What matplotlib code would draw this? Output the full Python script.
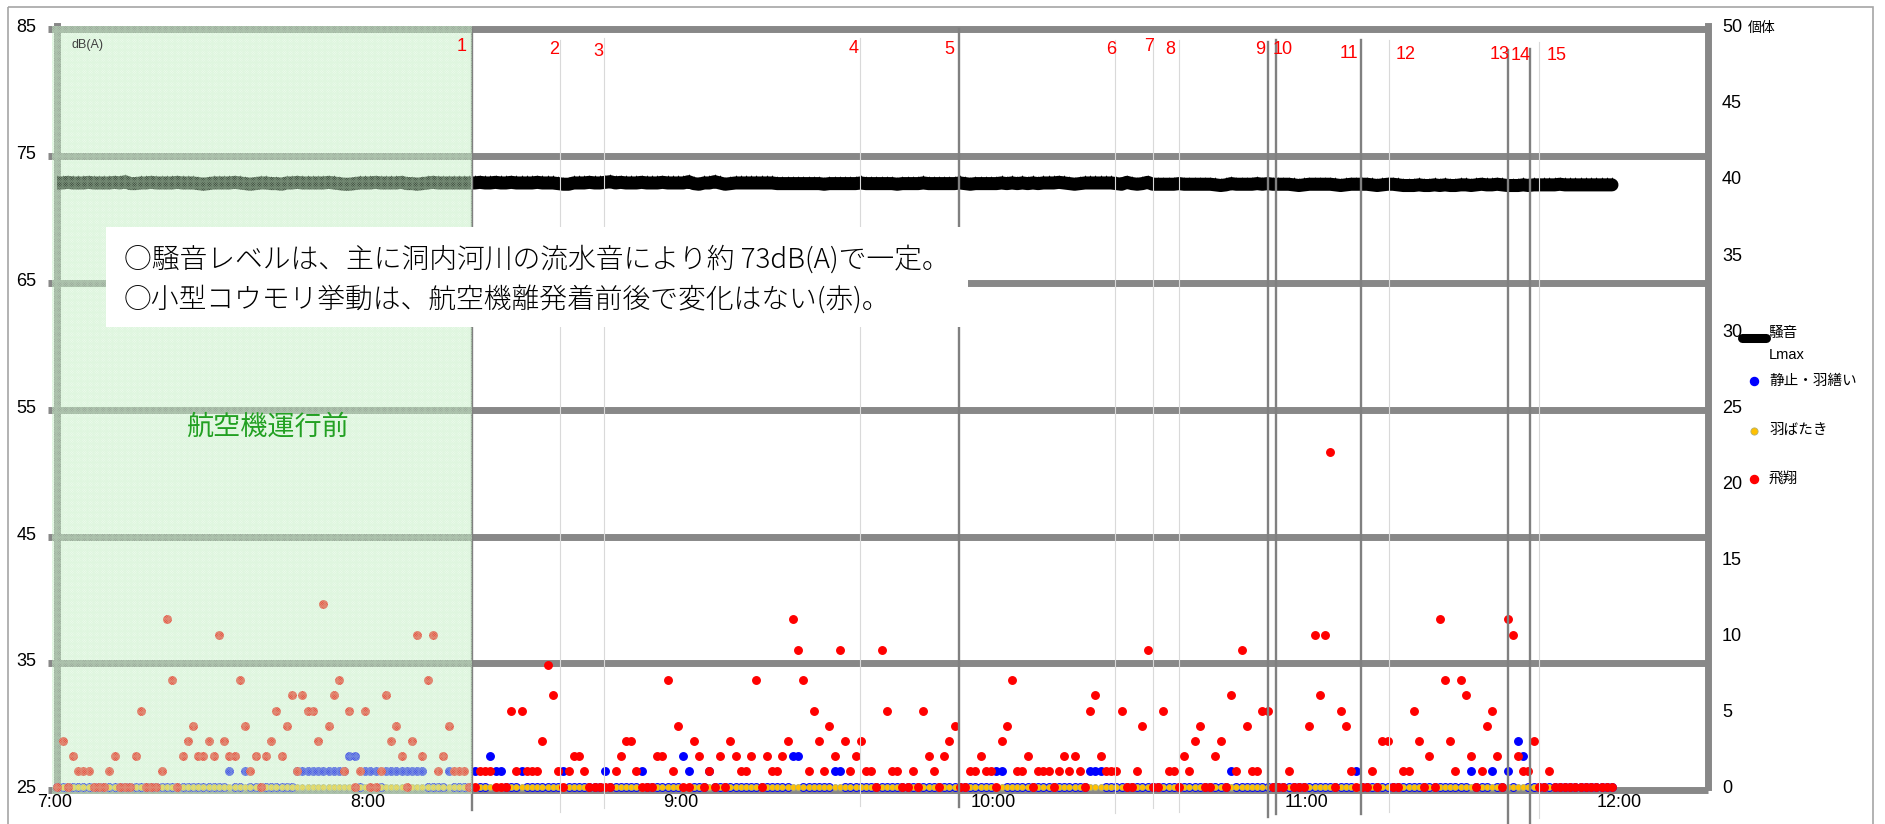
import matplotlib
matplotlib.use("Agg")
import matplotlib.pyplot as plt
import matplotlib.transforms as mtransforms
from matplotlib.patches import Rectangle
from matplotlib.lines import Line2D

plt.rcParams['font.family'] = ['Liberation Sans', 'Noto Sans CJK JP']
plt.rcParams['hatch.linewidth'] = 0.6

# ---------------------------------------------------------------- data
# one sample per minute starting at 7:00
x_tick_labels = ['7:00', '8:00', '9:00', '10:00', '11:00', '12:00']

# noise level Lmax [dB(A)]
noise_lmax = [
    72.6, 72.6, 72.65, 72.6, 72.6, 72.6, 72.65, 72.6, 72.6, 72.6, 72.6, 72.65, 72.6, 72.7, 72.55, 72.55, 72.6, 72.6, 72.65, 72.6,
    72.6, 72.6, 72.6, 72.65, 72.6, 72.6, 72.6, 72.55, 72.5, 72.55, 72.6, 72.6, 72.6, 72.6, 72.65, 72.6, 72.55, 72.5, 72.55, 72.6,
    72.6, 72.55, 72.55, 72.5, 72.6, 72.6, 72.65, 72.6, 72.6, 72.6, 72.6, 72.6, 72.65, 72.6, 72.55, 72.5, 72.5, 72.55, 72.6, 72.6,
    72.6, 72.65, 72.6, 72.6, 72.6, 72.6, 72.65, 72.55, 72.55, 72.5, 72.55, 72.6, 72.65, 72.6, 72.6, 72.6, 72.6, 72.6, 72.6, 72.6,
    72.6, 72.65, 72.6, 72.6, 72.65, 72.6, 72.6, 72.65, 72.6, 72.6, 72.6, 72.6, 72.65, 72.6, 72.6, 72.6, 72.55, 72.5, 72.5, 72.6,
    72.6, 72.6, 72.65, 72.6, 72.6, 72.65, 72.7, 72.6, 72.65, 72.6, 72.6, 72.6, 72.65, 72.6, 72.6, 72.6, 72.65, 72.6, 72.6, 72.6,
    72.6, 72.7, 72.55, 72.5, 72.6, 72.6, 72.7, 72.6, 72.5, 72.55, 72.6, 72.6, 72.6, 72.6, 72.6, 72.6, 72.6, 72.6, 72.55, 72.55,
    72.55, 72.55, 72.55, 72.55, 72.55, 72.55, 72.55, 72.5, 72.55, 72.55, 72.55, 72.55, 72.55, 72.55, 72.6, 72.55, 72.55, 72.55, 72.55, 72.55,
    72.55, 72.5, 72.55, 72.55, 72.55, 72.55, 72.6, 72.55, 72.55, 72.55, 72.55, 72.55, 72.55, 72.6, 72.55, 72.5, 72.55, 72.55, 72.55, 72.55,
    72.55, 72.6, 72.55, 72.6, 72.55, 72.6, 72.55, 72.6, 72.55, 72.6, 72.6, 72.6, 72.65, 72.6, 72.55, 72.5, 72.55, 72.6, 72.6, 72.6,
    72.6, 72.6, 72.6, 72.55, 72.5, 72.65, 72.55, 72.5, 72.55, 72.65, 72.5, 72.5, 72.5, 72.5, 72.5, 72.55, 72.5, 72.5, 72.5, 72.5,
    72.5, 72.5, 72.45, 72.4, 72.45, 72.55, 72.5, 72.5, 72.5, 72.5, 72.55, 72.5, 72.55, 72.5, 72.5, 72.5, 72.5, 72.45, 72.4, 72.45,
    72.5, 72.5, 72.5, 72.5, 72.5, 72.45, 72.4, 72.45, 72.5, 72.5, 72.5, 72.5, 72.45, 72.4, 72.45, 72.5, 72.5, 72.45, 72.4, 72.4,
    72.4, 72.45, 72.4, 72.4, 72.45, 72.4, 72.45, 72.4, 72.4, 72.45, 72.45, 72.4, 72.45, 72.5, 72.45, 72.45, 72.5, 72.45, 72.4, 72.4,
    72.4, 72.45, 72.4, 72.45, 72.45, 72.45, 72.45, 72.45, 72.5, 72.45, 72.45, 72.45, 72.45, 72.45, 72.45, 72.45, 72.45, 72.45, 72.45,
]

# bats resting / grooming (individuals)
still_groom = [
    0, 0, 0, 0, 0, 0, 0, 0, 0, 0, 0, 0, 0, 0, 0, 0, 0, 0, 0, 0,
    0, 0, 0, 0, 0, 0, 0, 0, 0, 0, 0, 0, 0, 1, 0, 0, 1, 0, 0, 0,
    0, 0, 0, 0, 0, 0, 1, 1, 1, 1, 1, 1, 1, 1, 1, 1, 2, 2, 0, 1,
    1, 1, 0, 1, 1, 1, 1, 1, 1, 1, 1, 0, 0, 0, 0, 1, 0, 0, 0, 0,
    1, 0, 0, 2, 1, 1, 0, 0, 0, 1, 0, 0, 0, 0, 0, 0, 0, 1, 0, 0,
    0, 0, 0, 0, 0, 1, 0, 0, 0, 0, 0, 0, 1, 0, 0, 0, 0, 0, 0, 0,
    2, 1, 0, 0, 0, 1, 0, 0, 0, 0, 0, 0, 0, 0, 0, 0, 0, 0, 0, 0,
    0, 2, 2, 0, 0, 0, 0, 0, 0, 1, 1, 0, 0, 0, 0, 0, 0, 0, 0, 0,
    0, 0, 0, 0, 0, 0, 0, 0, 0, 0, 0, 0, 0, 0, 0, 0, 0, 0, 0, 0,
    1, 1, 0, 0, 0, 0, 0, 0, 0, 0, 0, 0, 0, 0, 0, 0, 0, 0, 1, 1,
    1, 0, 0, 0, 0, 0, 0, 0, 0, 0, 0, 0, 0, 0, 0, 0, 0, 0, 0, 0,
    0, 0, 0, 0, 0, 1, 0, 0, 0, 0, 0, 0, 0, 0, 0, 0, 0, 0, 0, 0,
    0, 0, 0, 0, 0, 0, 0, 0, 0, 1, 0, 0, 0, 0, 0, 0, 0, 0, 0, 0,
    0, 0, 0, 0, 0, 0, 0, 0, 0, 0, 0, 1, 0, 0, 0, 1, 0, 0, 1, 0,
    3, 2, 0, 0, 0, 0, 0, 0, 0, 0, 0, 0, 0, 0, 0, 0, 0, 0, 0,
]

# bats wing-flapping (individuals): none observed
flapping = [0] * len(noise_lmax)

# bats in flight (individuals)
flight = [
    0, 3, 0, 2, 1, 1, 1, 0, 0, 0, 1, 2, 0, 0, 0, 2, 5, 0, 0, 0,
    1, 11, 7, 0, 2, 3, 4, 2, 2, 3, 2, 10, 3, 2, 2, 7, 4, 1, 2, 0,
    2, 3, 5, 2, 4, 6, 1, 6, 5, 5, 3, 12, 4, 6, 7, 1, 5, 0, 1, 5,
    0, 0, 1, 6, 3, 4, 2, 0, 3, 10, 2, 7, 10, 1, 2, 4, 1, 1, 1, 0,
    0, 1, 1, 1, 0, 0, 0, 5, 1, 5, 1, 1, 1, 3, 8, 6, 1, 0, 1, 2,
    2, 1, 0, 0, 0, 0, 0, 1, 2, 3, 3, 1, 0, 0, 0, 2, 2, 7, 1, 4,
    0, 0, 3, 2, 0, 1, 0, 2, 0, 3, 2, 1, 1, 2, 7, 0, 2, 1, 1, 2,
    3, 11, 9, 7, 1, 5, 3, 1, 4, 2, 9, 3, 1, 2, 3, 1, 1, 0, 9, 5,
    1, 1, 0, 0, 1, 0, 5, 2, 1, 0, 2, 3, 4, 0, 0, 1, 1, 2, 1, 1,
    0, 3, 4, 7, 1, 1, 2, 0, 1, 1, 1, 0, 1, 2, 1, 2, 1, 0, 5, 6,
    2, 1, 1, 1, 5, 0, 0, 1, 4, 9, 0, 0, 5, 1, 1, 0, 2, 1, 3, 4,
    0, 0, 2, 3, 0, 6, 1, 9, 4, 1, 1, 5, 5, 0, 0, 0, 1, 0, 0, 0,
    4, 10, 6, 10, 22, 0, 5, 4, 1, 0, 0, 0, 1, 0, 3, 3, 0, 0, 1, 1,
    5, 3, 0, 2, 0, 11, 7, 3, 1, 7, 6, 2, 0, 1, 4, 5, 2, 0, 11, 10,
    2, 1, 1, 3, 0, 0, 1, 0, 0, 0, 0, 0, 0, 0, 0, 0, 0, 0, 0,
]

# aircraft events (numbered 1-15)
event_labels = [str(i) for i in range(1, 16)]
event_times = ['8:19:26', '8:36:22', '8:44:51', '9:33:52', '9:52:54',
               '10:22:44', '10:30:05', '10:35:04', '10:52:00', '10:53:33',
               '11:09:50', '11:15:18', '11:38:06', '11:42:18', '11:44:06']
event_major = [True, False, False, False, True, False, False, False,
               True, True, True, False, True, True, False]

assert len(noise_lmax) == len(still_groom) == len(flight)


def to_minutes(s):
    h, m, sec = (int(v) for v in s.split(':'))
    return (h - 7) * 60 + m + sec / 60.0


minutes = list(range(len(noise_lmax)))
event_min = [to_minutes(s) for s in event_times]

# ---------------------------------------------------------------- layout
W, H = 1885, 824
fig = plt.figure(figsize=(W / 100, H / 100), dpi=100)
fig.patch.set_facecolor('white')

AX_L, AX_R, AX_T, AX_B = 57.3, 1708.0, 25.7, 786.7
ax = fig.add_axes([AX_L / W, 1 - AX_B / H, (AX_R - AX_L) / W, (AX_B - AX_T) / H])
ax2 = ax.twinx()

px_per_min = 5.217
ax.set_xlim(0, (AX_R - AX_L) / px_per_min)
ax.set_ylim(25, 85)
ax2.set_ylim(0, 50)

# transform: figure pixels measured from the top-left corner
PX = mtransforms.Affine2D().scale(1 / 100, -1 / 100).translate(0, H / 100) + fig.dpi_scale_trans

GRID = '#888888'
# thick horizontal grid lines (drawn with their top edge on the value)
grid_shift = mtransforms.ScaledTranslation(0, -3.5 / 100, fig.dpi_scale_trans)
hline_tr = mtransforms.blended_transform_factory(ax.transAxes, ax.transData) + grid_shift
for v in range(25, 86, 10):
    ax.add_line(Line2D([-0.0057, 1.0], [v, v], transform=hline_tr, color=GRID,
                       lw=5.0, solid_capstyle='butt', clip_on=False, zorder=1))

for side in ('top', 'bottom'):
    ax.spines[side].set_visible(False)
for side in ('left', 'right'):
    ax.spines[side].set_color(GRID)
    ax.spines[side].set_linewidth(5.0)
for sp in ax2.spines.values():
    sp.set_visible(False)

ax.set_yticks(range(25, 86, 10))
ax.set_xticks([0, 60, 120, 180, 240, 300])
ax.set_xticklabels(x_tick_labels)
ax.tick_params(axis='y', length=0, pad=15.0, labelsize=13)
ax.tick_params(axis='x', length=0, pad=5.5, labelsize=13)
ax2.set_yticks(range(0, 51, 5))
ax2.tick_params(axis='y', length=0, pad=10, labelsize=13)
lab_shift = mtransforms.ScaledTranslation(-3 / 100, 0, fig.dpi_scale_trans)
for lab in ax.get_xticklabels():
    lab.set_transform(lab.get_transform() + lab_shift)

# noise level: thick band with small teeth along the upper edge
ax.plot(minutes, noise_lmax, color='black', lw=9.4, solid_capstyle='round',
        solid_joinstyle='round', zorder=3)
teeth = ax.transData + mtransforms.ScaledTranslation(0, 5.5 / 100, fig.dpi_scale_trans)
ax.plot(minutes, noise_lmax, ls='none', marker='^', ms=3.2, color='black',
        mew=0, transform=teeth, zorder=3)

# bat behaviour counts
ax2.plot(minutes, still_groom, 'o', ms=5.4, color='#0000ff', mec='#0000ff',
         clip_on=False, zorder=3.0)
ax2.plot(minutes, flapping, 'o', ms=4.3, mfc='#ffc000', mec='#b4b070', mew=0.6,
         clip_on=False, zorder=3.1)
ax2.plot(minutes, flight, 'o', ms=5.4, color='#ff0000', mec='#ff0000',
         clip_on=False, zorder=3.2)

# aircraft event markers
line_top = [29, 40, 38, 38, 29, 40, 40, 40, 42, 40, 40, 40, 50, 49, 42]
line_bottom = [810, 812, 808, 806, 807, 813, 808, 812, 817, 814, 814, 812, 824, 824, 818]
label_dx = [-10, -6.4, -6.3, -6.4, -9.8, -3.4, -4.3, -8.8, -7.4, 7.3, -11.3, 16.9, -8.6, -9, 16.7]
label_y = [46.7, 50, 51.7, 48.3, 49.3, 50, 46.7, 50, 50, 50, 53.3, 54.3, 54.3, 55, 55]
ev_tr = mtransforms.blended_transform_factory(ax2.transData, PX)
for i, (t, major) in enumerate(zip(event_min, event_major)):
    ax2.add_line(Line2D([t, t], [line_top[i], line_bottom[i]], transform=ev_tr,
                        color='#808080' if major else '#d9d9d9',
                        lw=1.7 if major else 0.8, clip_on=False, zorder=4))
    off = mtransforms.ScaledTranslation(label_dx[i] / 100, 0, fig.dpi_scale_trans)
    ax2.text(t, label_y[i], event_labels[i], transform=ev_tr + off, color='#ff0000',
             fontsize=13, ha='center', va='center', clip_on=False, zorder=12)

# "before aircraft operation" period overlay
t0 = -1.0
ax2.add_patch(Rectangle((t0, -0.5), event_min[0] - t0, 50.5, facecolor='#bdeebd',
                        edgecolor='none', alpha=0.22, clip_on=False, zorder=5))
ax2.add_patch(Rectangle((t0, -0.5), event_min[0] - t0, 50.5, facecolor='none',
                        edgecolor=(0.80, 0.94, 0.80, 0.45), lw=0, hatch='x' * 14,
                        clip_on=False, zorder=5.1))

# annotation box
fig.add_artist(Rectangle((106, 227), 968 - 106, 100, transform=PX,
                         facecolor='white', edgecolor='none', zorder=10))
fig.text(124, 259, '○騒音レベルは、主に洞内河川の流水音により約 73dB(A)で一定。',
         transform=PX, family=['Noto Sans CJK JP'], fontsize=20, fontweight='light',
         ha='left', va='center', zorder=11)
fig.text(124, 299, '○小型コウモリ挙動は、航空機離発着前後で変化はない(赤)。',
         transform=PX, family=['Noto Sans CJK JP'], fontsize=20, fontweight='light',
         ha='left', va='center', zorder=11)
fig.text(186, 427, '航空機運行前', transform=PX, family=['Noto Sans CJK JP'],
         fontsize=19.5, color='#22a022', ha='left', va='center', zorder=11)
fig.text(72, 45, 'dB(A)', transform=PX, fontsize=9, color='#404040',
         ha='left', va='center', zorder=11)
fig.text(1748, 28, '個体', transform=PX, family=['Noto Sans CJK JP'], fontsize=10,
         ha='left', va='center', zorder=11)

# legend
fig.add_artist(Line2D([1742, 1766], [337.5, 337.5], transform=PX, color='black',
                      lw=6.5, solid_capstyle='round', zorder=11))
fig.add_artist(Line2D([1754], [381], transform=PX, marker='o', ms=5.8, color='#0000ff',
                      mec='#0000ff', ls='none', zorder=11))
fig.add_artist(Line2D([1754], [431], transform=PX, marker='o', ms=5.2, mfc='#ffc000',
                      mec='#b4b070', mew=0.6, ls='none', zorder=11))
fig.add_artist(Line2D([1754], [479], transform=PX, marker='o', ms=5.8, color='#ff0000',
                      mec='#ff0000', ls='none', zorder=11))
for txt, yy in [('騒音', 333), ('Lmax', 355), ('静止・羽繕い', 381),
                ('羽ばたき', 430), ('飛翔', 479)]:
    fig.text(1769, yy, txt, transform=PX, fontsize=10.5, ha='left', va='center', zorder=11)

# outer frame
fig.add_artist(Rectangle((8, 7), 1873 - 8, 830, transform=PX, fill=False,
                         edgecolor='#a6a6a6', lw=1.2, clip_on=False, zorder=12))

fig.savefig('out.png', dpi=100, facecolor='white')
